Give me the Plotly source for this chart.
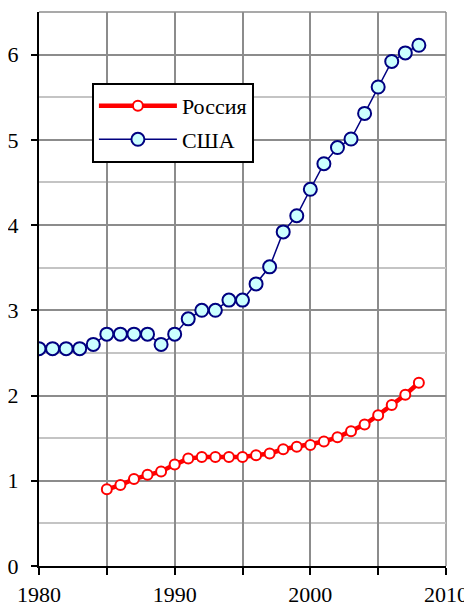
import plotly.graph_objects as go

years_usa = list(range(1980, 2009))
usa = [2.55, 2.55, 2.55, 2.55, 2.60, 2.72, 2.72, 2.72, 2.72, 2.60,
       2.72, 2.90, 3.00, 3.00, 3.12, 3.12, 3.31, 3.51, 3.92, 4.11,
       4.42, 4.72, 4.91, 5.01, 5.31, 5.62, 5.92, 6.02, 6.11]

years_rus = list(range(1985, 2009))
russia = [0.90, 0.95, 1.02, 1.07, 1.11, 1.19, 1.26, 1.28, 1.28, 1.28,
          1.28, 1.30, 1.32, 1.37, 1.40, 1.42, 1.46, 1.51, 1.58, 1.66,
          1.77, 1.89, 2.01, 2.15]

x_tickvals = [1980, 1985, 1990, 1995, 2000, 2005, 2010]
x_ticktext = ["1980", "", "1990", "", "2000", "", "2010"]
y_tickvals = [0, 1, 2, 3, 4, 5, 6]

FONT = "Liberation Serif"
TICKFONT = dict(family=FONT, size=22, color="black")

fig = go.Figure()
fig.add_trace(go.Scatter(
    x=years_rus, y=russia, name="Россия", mode="lines+markers",
    line=dict(color="#ff0000", width=4.5),
    marker=dict(size=10, color="white", line=dict(color="#ff0000", width=2)),
    legendgroup="a",
))
fig.add_trace(go.Scatter(
    x=years_usa, y=usa, name="США", mode="lines+markers",
    line=dict(color="#000080", width=1.5),
    marker=dict(size=13, color="#ccffff", line=dict(color="#000080", width=2)),
    legendgroup="b",
))

fig.update_layout(
    width=472, height=606,
    margin=dict(l=31, r=34, t=4, b=48, autoexpand=False),
    paper_bgcolor="white", plot_bgcolor="white",
    font=dict(family=FONT, size=22, color="black"),
    showlegend=True,
    legend=dict(
        x=0.130, y=0.872, xanchor="left", yanchor="top",
        bgcolor="white", bordercolor="black", borderwidth=2,
        font=dict(family=FONT, size=22, color="black"),
        itemwidth=78, tracegroupgap=2, traceorder="grouped",
    ),
    xaxis=dict(
        range=[1980, 2010], tickvals=x_tickvals, ticktext=x_ticktext,
        tickfont=TICKFONT, automargin=False,
        showgrid=True, gridcolor="#8c8c8c", gridwidth=1.5,
        showline=True, linecolor="black", linewidth=2,
        ticks="outside", ticklen=7, tickwidth=2, tickcolor="black",
        zeroline=False, ticklabelstandoff=1,
    ),
    yaxis=dict(
        range=[0, 6.5], tickvals=y_tickvals,
        tickfont=TICKFONT, automargin=False,
        showgrid=True, gridcolor="#8c8c8c", gridwidth=1.5,
        minor=dict(dtick=0.5, showgrid=True, gridcolor="#c4c4c4", gridwidth=1.5),
        showline=True, linecolor="black", linewidth=2,
        ticks="outside", ticklen=6, tickwidth=2, tickcolor="black",
        zeroline=False, ticklabelstandoff=8,
    ),
)

fig.add_shape(type="line", xref="paper", yref="paper", x0=0, x1=1, y0=1, y1=1,
              line=dict(color="#8c8c8c", width=1.5), layer="below")
fig.add_shape(type="line", xref="paper", yref="paper", x0=1, x1=1, y0=0, y1=1,
              line=dict(color="#8c8c8c", width=1.5), layer="below")

fig.write_html("out.html")
